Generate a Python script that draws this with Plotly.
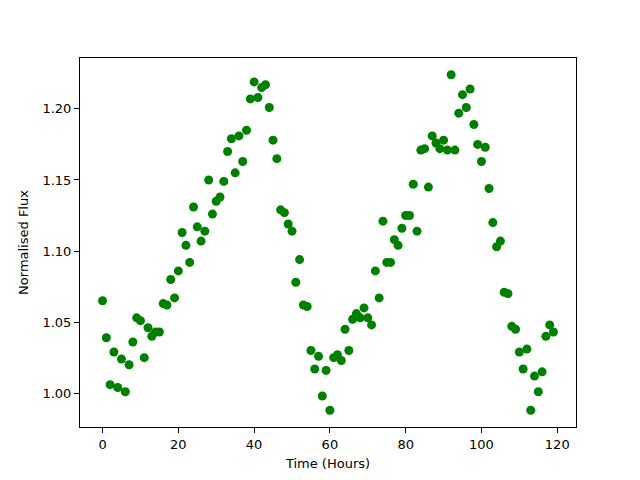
import plotly.graph_objects as go

hours = list(range(120))
flux = [
    1.065, 1.039, 1.006, 1.029, 1.004, 1.024, 1.001, 1.020, 1.036, 1.053,
    1.051, 1.025, 1.046, 1.040, 1.043, 1.043, 1.063, 1.062, 1.080, 1.067,
    1.086, 1.113, 1.104, 1.092, 1.131, 1.117, 1.107, 1.114, 1.150, 1.126,
    1.135, 1.138, 1.149, 1.170, 1.179, 1.155, 1.181, 1.163, 1.185, 1.207,
    1.219, 1.208, 1.215, 1.217, 1.201, 1.178, 1.165, 1.129, 1.127, 1.119,
    1.114, 1.078, 1.094, 1.062, 1.061, 1.030, 1.017, 1.026, 0.998, 1.016,
    0.988, 1.025, 1.027, 1.023, 1.045, 1.030, 1.052, 1.056, 1.053, 1.060,
    1.053, 1.048, 1.086, 1.067, 1.121, 1.092, 1.092, 1.108, 1.104, 1.116,
    1.125, 1.125, 1.147, 1.114, 1.171, 1.172, 1.145, 1.181, 1.176, 1.172,
    1.178, 1.171, 1.224, 1.171, 1.197, 1.210, 1.201, 1.214, 1.189, 1.175,
    1.163, 1.173, 1.144, 1.120, 1.103, 1.107, 1.071, 1.070, 1.047, 1.045,
    1.029, 1.017, 1.031, 0.988, 1.012, 1.001, 1.015, 1.040, 1.048, 1.043,
]
x_ticks = [0, 20, 40, 60, 80, 100, 120]
y_ticks = [1.00, 1.05, 1.10, 1.15, 1.20]

fig = go.Figure(go.Scatter(
    x=hours, y=flux, mode="markers",
    marker=dict(color="#008000", size=9, line=dict(width=0)),
))

xspan = max(hours) - min(hours)
yspan = max(flux) - min(flux)
axis_common = dict(
    showline=True, linecolor="black", linewidth=1, mirror=True,
    ticks="outside", ticklen=5, tickwidth=1, tickcolor="black",
    showgrid=False, zeroline=False, automargin=False,
    tickfont=dict(family="DejaVu Sans", size=13, color="black"),
)
fig.update_xaxes(
    range=[min(hours) - 0.05 * xspan, max(hours) + 0.05 * xspan],
    tickvals=x_ticks, ticktext=[str(v) for v in x_ticks],
    title=dict(text="Time (Hours)", font=dict(family="DejaVu Sans", size=13, color="black"), standoff=8),
    **axis_common,
)
fig.update_yaxes(
    range=[min(flux) - 0.05 * yspan, max(flux) + 0.05 * yspan],
    tickvals=y_ticks, ticktext=[f"{v:.2f}" for v in y_ticks],
    title=dict(text="Normalised Flux", font=dict(family="DejaVu Sans", size=13, color="black"), standoff=10),
    **axis_common,
)
fig.update_layout(
    width=640, height=480,
    margin=dict(l=72, r=72, t=50, b=61),
    paper_bgcolor="white", plot_bgcolor="white",
    showlegend=False,
)
fig.write_html("out.html")
